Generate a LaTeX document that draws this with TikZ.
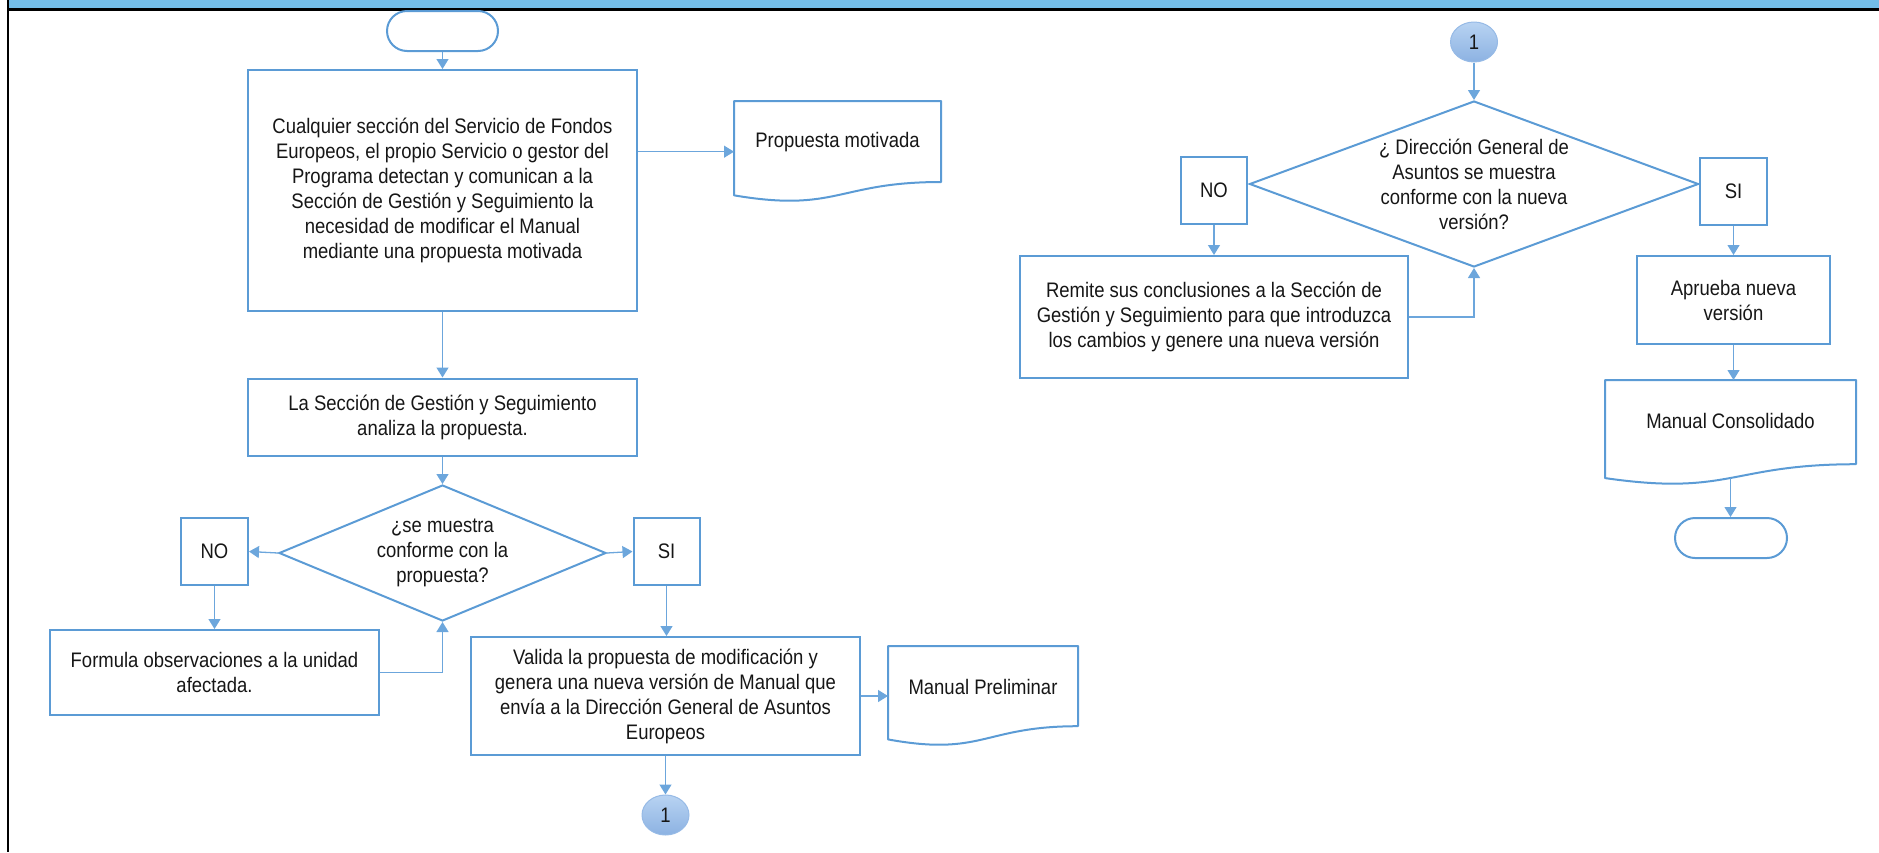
\documentclass[tikz,border=0pt]{standalone}
\usepackage{fontspec}
\setmainfont[FakeStretch=0.88]{Liberation Sans}
\usetikzlibrary{shapes.geometric,arrows.meta,calc}

\definecolor{boxline}{RGB}{91,155,213}
\definecolor{flowline}{RGB}{108,166,220}
\definecolor{barblue}{RGB}{116,189,232}
\definecolor{conA}{RGB}{184,211,242}
\definecolor{conB}{RGB}{140,178,226}
\definecolor{conEdge}{RGB}{150,186,230}
\definecolor{txt}{RGB}{22,22,22}

% document symbol: name, left, top, width, height, text
\newcommand{\flowdoc}[6]{%
  \draw[boxline, line width=2pt, line join=round]
    (#2,#3) -- ({#2+#4},#3) -- ({#2+#4},{#3+0.802*#5})
    .. controls ({#2+0.5*#4},{#3+0.802*#5}) and ({#2+0.5*#4},{#3+1.1075*#5})
    .. (#2,{#3+0.934*#5}) -- cycle;
  \node[inner sep=0pt, minimum width=#4, minimum height=#5, anchor=north west] (#1) at (#2,#3) {};
  \node[txtnode] (#1-t) at ({#2+0.5*#4},{#3+41}) {#6};
  \coordinate (#1-b) at ({#2+0.5*#4},{#3+0.933*#5});
}

\begin{document}
\begin{tikzpicture}[x=1pt, y=-1pt,
  every node/.style={font=\fontsize{21}{25}\selectfont, text=txt},
  txtnode/.style={inner sep=0pt, align=center},
  proc/.style={draw=boxline, line width=2pt, rectangle, inner sep=0pt, align=center},
  term/.style={draw=boxline, line width=2pt, rectangle, rounded corners=20pt, inner sep=0pt,
    minimum width=111, minimum height=40},
  decision/.style={draw=boxline, line width=2pt, diamond, inner sep=0pt},
  connector/.style={ellipse, draw=conEdge, line width=1pt, top color=conA, bottom color=conB,
    inner sep=0pt, minimum width=47, minimum height=40},
  flow/.style={draw=flowline, line width=1.3pt, -{Triangle[width=12pt,length=10pt]}}
]
\useasboundingbox (0,0) rectangle (1879,852);

% frame: blue title strip with black rules
\fill[barblue] (8.5,0) rectangle (1879,8);
\fill[black] (6.5,8) rectangle (1879,10.5);
\fill[black] (6.5,0) rectangle (8.5,852);

% ---------- left column ----------
\node[term] (start) at (442.5,31) {};
\node[proc, minimum width=389, minimum height=241] (b1) at (442.5,190.5)
  {Cualquier sección del Servicio de Fondos\\
   Europeos, el propio Servicio o gestor del\\
   Programa detectan y comunican a la\\
   Sección de Gestión y Seguimiento la\\
   necesidad de modificar el Manual\\
   mediante una propuesta motivada};
\flowdoc{pm}{734}{101}{207}{101}{Propuesta motivada}

\node[proc, minimum width=389, minimum height=77] (b2) at (442.5,417)
  {La Sección de Gestión y Seguimiento\\ analiza la propuesta.};

\node[decision, minimum width=327, minimum height=136] (d1) at (442.5,553) {};
\node[txtnode] (d1t) at (d1) {¿se muestra\\ conforme con la\\ propuesta?};

\node[proc, minimum width=67, minimum height=67] (no1) at (214.5,551.5) {NO};
\node[proc, minimum width=66, minimum height=67] (si1) at (666.5,551.5) {SI};

\node[proc, minimum width=329, minimum height=85] (obs) at (214.5,672.5)
  {Formula observaciones a la unidad\\ afectada.};

\node[proc, minimum width=389, minimum height=118] (val) at (665.5,696)
  {Valida la propuesta de modificación y\\
   genera una nueva versión de Manual que\\
   envía a la Dirección General de Asuntos\\
   Europeos};
\flowdoc{mp}{888}{646}{190}{100}{Manual Preliminar}

\node[connector] (c1a) at (665.5,815) {1};

% ---------- right column ----------
\node[connector] (c1b) at (1474,42) {1};

\node[decision, minimum width=449, minimum height=166] (d2) at (1474,184) {};
\node[txtnode] (d2t) at (d2) {¿ Dirección General de\\ Asuntos se muestra\\ conforme con la nueva\\ versión?};

\node[proc, minimum width=66, minimum height=67] (no2) at (1214,190.5) {NO};
\node[proc, minimum width=67, minimum height=67] (si2) at (1733.5,191.5) {SI};

\node[proc, minimum width=388, minimum height=122] (rem) at (1214,317)
  {Remite sus conclusiones a la Sección de\\
   Gestión y Seguimiento para que introduzca\\
   los cambios y genere una nueva versión};

\node[proc, minimum width=193, minimum height=88] (apr) at (1733.5,300)
  {Aprueba nueva\\ versión};
\flowdoc{mc}{1605}{380}{251}{105}{Manual Consolidado}

\node[term, minimum width=112] (fin) at (1731,538) {};

% ---------- connectors ----------
\draw[flow] (start) -- (b1);
\draw[flow] (b1.east |- pm.west) -- (pm.west);
\draw[flow] (b1) -- (b2);
\draw[flow] (b2) -- (d1.north);
\draw[flow] (d1.west) -- (no1.east);
\draw[flow] (d1.east) -- (si1.west);
\draw[flow] (no1) -- (obs);
\draw[flow] (obs.east) -| (d1.south);
\draw[flow] (si1) -- (val.north -| si1);
\draw[flow] (val.east) -- (val.east -| mp.west);
\draw[flow] (val.south) -- (c1a);

\draw[flow] (c1b) -- (d2.north);
\draw[flow] (no2) -- (rem.north -| no2);
\draw[flow] (rem.east) -| (d2.south);
\draw[flow] (si2) -- (apr);
\draw[flow] (apr.south) -- (apr.south |- mc.north);
\draw[flow] (mc-b) -- (mc-b |- fin.north);
\end{tikzpicture}
\end{document}
